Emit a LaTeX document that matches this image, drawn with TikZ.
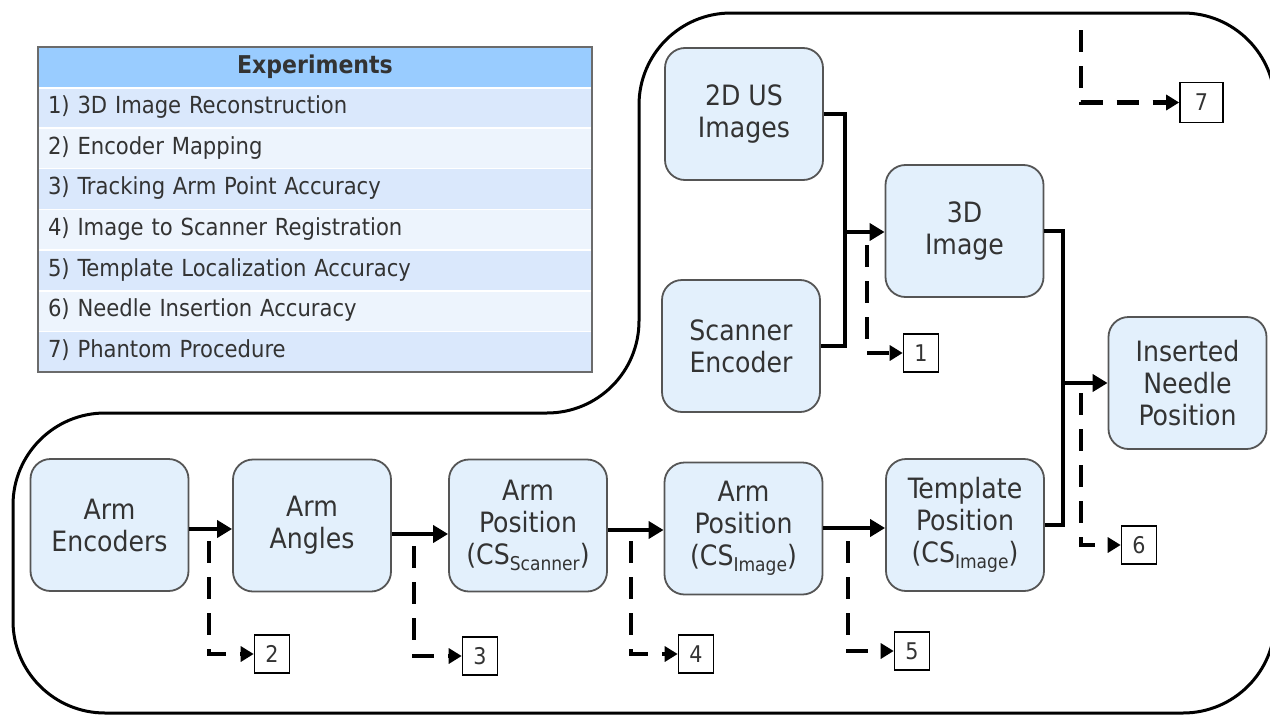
\documentclass[tikz,border=0pt]{standalone}
\usepackage{fontspec}
\setmainfont{DejaVu Sans Condensed}
\usetikzlibrary{arrows.meta}
\definecolor{boxfill}{HTML}{E3F0FC}
\definecolor{boxline}{HTML}{555555}
\definecolor{txt}{HTML}{333333}
\definecolor{hdrfill}{HTML}{99CCFF}
\definecolor{rowa}{HTML}{DAE8FC}
\definecolor{rowb}{HTML}{EDF4FD}
\definecolor{tblline}{HTML}{6B6B6B}
\newcommand{\mysub}[1]{\raisebox{-6pt}{\fontsize{19}{19}\selectfont #1}}
\begin{document}
\begin{tikzpicture}[x=1pt,y=-1pt,
  box/.style={draw=boxline, fill=boxfill, rounded corners=20pt, minimum width=158pt, minimum height=132pt,
    line width=1.8pt, align=center, text=txt, inner sep=0pt, font={\fontsize{28}{32}\selectfont}},
  numbox/.style={draw=black, fill=white, line width=1.6pt, minimum width=35pt, minimum height=38pt,
    inner sep=0pt, text=txt, font={\fontsize{23}{26}\selectfont}},
  flow/.style={line width=4.5pt, -{Triangle[length=15pt,width=17pt]}},
  wire/.style={line width=4.5pt},
  dflow/.style={line width=4.5pt, dash pattern=on 22pt off 14pt, -{Triangle[length=13pt,width=15pt]}},
  trow/.style={minimum width=554pt, minimum height=40.7pt, inner xsep=10pt, inner ysep=0pt, text width=534pt,
    align=left, text=txt, font={\fontsize{23.5}{26}\selectfont}, text height=17pt, text depth=5pt},
  sep/.style={white, line width=1.5pt}
]
\useasboundingbox (0,0) rectangle (1270,715);
\fill[white] (0,0) rectangle (1270,715);

% outline
\draw[line width=3pt, rounded corners=92pt]
  (300,413) -- (639,413) -- (639,13) -- (1275,13) -- (1275,713) -- (13,713) -- (13,413) -- (300,413);

% table
\node[trow, fill=hdrfill, align=center, font={\bfseries\fontsize{24.5}{26}\selectfont}] (th) at (315,67.5) {Experiments};
\node[trow, fill=rowa] (t1) at (315,107.4) {1) 3D Image Reconstruction};
\node[trow, fill=rowb] (t2) at (315,148.1) {2) Encoder Mapping};
\node[trow, fill=rowa] (t3) at (315,188.8) {3) Tracking Arm Point Accuracy};
\node[trow, fill=rowb] (t4) at (315,229.5) {4) Image to Scanner Registration};
\node[trow, fill=rowa] (t5) at (315,270.2) {5) Template Localization Accuracy};
\node[trow, fill=rowb] (t6) at (315,310.9) {6) Needle Insertion Accuracy};
\node[trow, fill=rowa] (t7) at (315,351.6) {7) Phantom Procedure};
\draw[sep] (th.south west) -- (th.south east);
\draw[sep] (t1.south west) -- (t1.south east);
\draw[sep] (t2.south west) -- (t2.south east);
\draw[sep] (t3.south west) -- (t3.south east);
\draw[sep] (t4.south west) -- (t4.south east);
\draw[sep] (t5.south west) -- (t5.south east);
\draw[sep] (t6.south west) -- (t6.south east);
\draw[tblline, line width=2.5pt] (th.north west) rectangle (t7.south east);

% boxes
\node[box] (us)  at (744,114) {2D US\\Images};
\node[box] (se)  at (741,346) {Scanner\\Encoder};
\node[box] (img) at (964.5,231) {3D\\Image};
\node[box] (ins) at (1187.5,383) {Inserted\\Needle\\Position};
\node[box] (ae)  at (109.5,525) {Arm\\Encoders};
\node[box] (aa)  at (312,525.5) {Arm\\Angles};
\node[box] (aps) at (528,525.5) {Arm\\Position\\(CS\mysub{Scanner})};
\node[box] (api) at (743.5,528.5) {Arm\\Position\\(CS\mysub{Image})};
\node[box] (tp)  at (965,525) {Template\\Position\\(CS\mysub{Image})};

% number boxes
\node[numbox] (n1) at (921,353) {1};
\node[numbox] (n2) at (272,654) {2};
\node[numbox] (n3) at (480,656) {3};
\node[numbox] (n4) at (696,654) {4};
\node[numbox] (n5) at (912,651) {5};
\node[numbox] (n6) at (1139,545) {6};
\node[numbox, minimum width=43pt, minimum height=40pt] (n7) at (1201.5,102.5) {7};

% junctions
\coordinate (j1) at (845,232);
\coordinate (j2) at (1063,383);

% solid flows
\draw[flow] (ae.east |- 0,529) -- (aa.west |- 0,529);
\draw[flow] (aa.east |- 0,534) -- (aps.west |- 0,534);
\draw[flow] (aps.east |- 0,530) -- (api.west |- 0,530);
\draw[flow] (api.east |- 0,528) -- (tp.west |- 0,528);
\draw[wire] (us.east) -| (j1) |- (se.east);
\draw[flow] (j1) -- (j1 -| img.west);
\draw[wire] (img.east) -| (j2) |- (tp.east);
\draw[flow] (j2) -- (j2 -| ins.west);

% dashed branches
\coordinate (b1) at (867,245);
\coordinate (b2) at (209,541);
\coordinate (b3) at (414,546);
\coordinate (b4) at (631,541);
\coordinate (b5) at (848,541);
\coordinate (b6) at (1081,393);
\coordinate (b7) at (1081,30);
\draw[dflow] (b1) |- (n1.west);
\draw[dflow] (b2) |- (n2.west);
\draw[dflow] (b3) |- (n3.west);
\draw[dflow] (b4) |- (n4.west);
\draw[dflow] (b5) |- (n5.west);
\draw[dflow] (b6) |- (n6.west);
\draw[dflow] (b7) |- (n7.west);
\end{tikzpicture}
\end{document}
